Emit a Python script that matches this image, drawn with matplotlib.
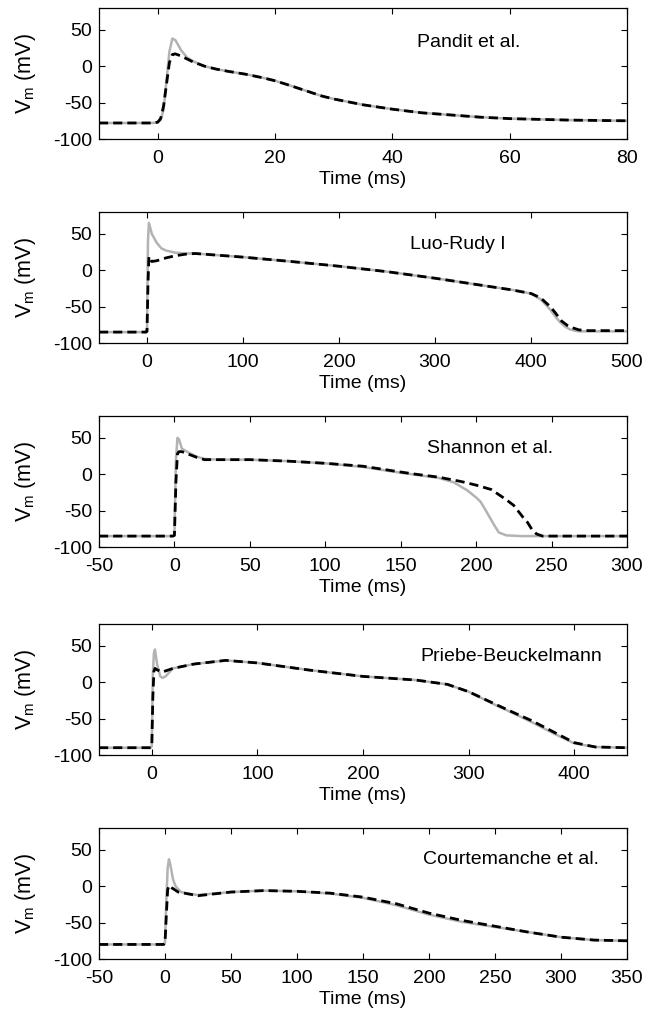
import matplotlib

matplotlib.use("Agg")
import matplotlib.pyplot as plt

plt.rcParams["font.family"] = ["Liberation Sans", "DejaVu Sans"]
plt.rcParams["mathtext.fontset"] = "custom"
plt.rcParams["mathtext.rm"] = "Liberation Sans"
plt.rcParams["mathtext.it"] = "Liberation Sans"
plt.rcParams["axes.unicode_minus"] = False

# --- Pandit et al. ---
pandit_t_fit = [-10, -1, 0, 0.5, 1, 1.5, 2, 2.5, 3, 4, 5, 6, 8, 10, 12, 15, 18, 20,
                22, 25, 28, 30, 35, 40, 45, 50, 55, 60, 70, 80]
pandit_v_fit = [-78, -78, -77, -72, -55, -25, 5, 16, 17, 14, 10, 6, 0, -4, -7, -11, -16, -20,
                -25, -33, -41, -45, -53, -59, -64, -67, -70, -72, -74, -75]
pandit_t_ref = [-10, -1, 0, 0.5, 1, 1.5, 2, 2.5, 3, 4, 5, 6, 8, 10, 12, 15, 18, 20,
                22, 25, 28, 30, 35, 40, 45, 50, 55, 60, 70, 80]
pandit_v_ref = [-78, -78, -77, -74, -60, -20, 20, 38, 36, 22, 12, 7, 0, -4, -7, -11, -16, -20,
                -25, -33, -41, -45, -53, -59, -64, -67, -70, -72, -74, -75]

# --- Luo-Rudy I ---
lr_t_fit = [-50, -1, 0, 1, 2, 5, 10, 20, 30, 40, 50, 60, 80, 100, 150, 200, 250, 300,
            350, 380, 400, 410, 420, 425, 432, 438, 443, 450, 460, 480, 500]
lr_v_fit = [-85, -85, -84, -20, 19, 12, 13, 17, 20, 22, 23, 22, 20, 18, 12, 5.5, -2, -11,
            -21, -27, -32, -38, -50, -58, -70, -76, -79, -82, -83, -83, -83]
lr_t_ref = [-50, -1, 0, 1, 2, 5, 10, 15, 20, 30, 40, 50, 60, 80, 100, 150, 200, 250, 300,
            350, 380, 400, 410, 420, 425, 430, 435, 440, 445, 450, 470, 500]
lr_v_ref = [-85, -85, -84, 40, 65, 50, 38, 30, 27, 24, 23, 23, 22, 20, 18, 12, 5.5, -2, -11,
            -21, -27, -32, -40, -54, -63, -71, -77, -81, -83, -84, -84, -84]

# --- Shannon et al. ---
sh_t_fit = [-50, -1, 0, 1, 2, 3, 5, 10, 15, 20, 30, 50, 75, 100, 125, 150, 160, 175, 190,
            200, 210, 215, 220, 225, 228, 231, 234, 237, 240, 244, 260, 300]
sh_v_fit = [-85, -85, -84, -10, 28, 31, 31, 27, 23, 20, 20, 20, 18, 15, 11, 3, 0, -4, -10,
            -15, -21, -28, -35, -43, -51, -59, -66, -76, -82, -85, -85, -85]
sh_t_ref = [-50, -1, 0, 1, 2, 3, 5, 10, 15, 20, 30, 50, 75, 100, 125, 150, 175, 185,
            194, 200, 203, 207, 212, 215, 220, 230, 260, 300]
sh_v_ref = [-85, -85, -84, 20, 50, 48, 35, 29, 24, 21, 20, 20, 18, 15, 10, 2, -5, -11,
            -22, -32, -38, -52, -70, -80, -84, -85, -85, -85]

# --- Priebe-Beuckelmann ---
pb_t_fit = [-50, -1, 0, 1, 2, 3, 5, 10, 20, 40, 70, 100, 150, 200, 250, 280, 300,
            325, 340, 360, 380, 400, 420, 450]
pb_v_fit = [-90, -90, -88, -20, 15, 19, 17, 14, 19, 25, 30, 26.5, 16.5, 8, 3, -3, -13,
            -30, -40, -53, -68, -83, -89, -90]
pb_t_ref = [-50, -1, 0, 1, 2, 3, 5, 8, 10, 13, 20, 40, 70, 100, 150, 200, 250, 280, 300,
            325, 340, 360, 380, 400, 420, 450]
pb_v_ref = [-90, -90, -88, 10, 40, 45, 25, 8, 6, 8, 19, 25, 30, 26.5, 16.5, 8, 3, -3, -13,
            -31, -41, -55, -70, -84, -89, -90]

# --- Courtemanche et al. ---
ct_t_fit = [-50, -1, 0, 1, 2, 3, 5, 10, 25, 50, 75, 100, 125, 150, 175, 200, 225,
            250, 275, 300, 325, 350]
ct_v_fit = [-80, -80, -78, -40, -5, 1, -2, -8, -13, -8, -6, -7, -9.5, -15, -24, -37, -47,
            -55, -63, -70, -74, -75]
ct_t_ref = [-50, -1, 0, 1, 2, 3, 4, 6, 8, 12, 20, 25, 50, 75, 100, 125, 150, 175, 200, 225,
            250, 275, 300, 325, 350]
ct_v_ref = [-80, -80, -78, -20, 25, 37, 30, 10, 0, -8, -11, -12, -8, -6, -7, -10, -16, -26,
            -39, -49, -56, -63, -70, -74, -75]

panels = [
    ("Pandit et al.", pandit_t_ref, pandit_v_ref, pandit_t_fit, pandit_v_fit,
     (-10, 80), [0, 20, 40, 60, 80], (0.70, 0.74)),
    ("Luo-Rudy I", lr_t_ref, lr_v_ref, lr_t_fit, lr_v_fit,
     (-50, 500), [0, 100, 200, 300, 400, 500], (0.68, 0.75)),
    ("Shannon et al.", sh_t_ref, sh_v_ref, sh_t_fit, sh_v_fit,
     (-50, 300), [-50, 0, 50, 100, 150, 200, 250, 300], (0.74, 0.75)),
    ("Priebe-Beuckelmann", pb_t_ref, pb_v_ref, pb_t_fit, pb_v_fit,
     (-50, 450), [0, 100, 200, 300, 400], (0.78, 0.75)),
    ("Courtemanche et al.", ct_t_ref, ct_v_ref, ct_t_fit, ct_v_fit,
     (-50, 350), [-50, 0, 50, 100, 150, 200, 250, 300, 350], (0.78, 0.76)),
]

W, H = 656, 1014
fig = plt.figure(figsize=(W / 100, H / 100), dpi=100)

left, right = 99, 627
tops = [8, 212, 416, 624, 828]
ax_h = 131

for (name, tr, vr, tf, vf, xlim, xticks, txt), top in zip(panels, tops):
    ax = fig.add_axes([left / W, 1 - (top + ax_h) / H, (right - left) / W, ax_h / H])
    ax.plot(tr, vr, color="#b3b3b3", linewidth=1.8)
    ax.plot(tf, vf, color="black", linewidth=2.0, linestyle=(0, (3.3, 1.8)))
    ax.set_xlim(*xlim)
    ax.set_ylim(-100, 80)
    ax.set_xticks(xticks)
    ax.set_yticks([-100, -50, 0, 50])
    ax.tick_params(direction="in", top=True, right=True, length=4, width=0.8,
                   labelsize=14)
    ax.tick_params(axis="x", pad=8)
    ax.tick_params(axis="y", pad=5)
    for sp in ax.spines.values():
        sp.set_linewidth(0.9)
    ax.set_xlabel("Time (ms)", fontsize=14, labelpad=3)
    ax.set_ylabel(r"$\mathregular{V_m}$ (mV)", fontsize=15.5)
    ax.yaxis.set_label_coords(-0.115, 0.5)
    ax.text(txt[0], txt[1], name, transform=ax.transAxes, ha="center", va="center",
            fontsize=14)

fig.savefig("out.png", dpi=100)
